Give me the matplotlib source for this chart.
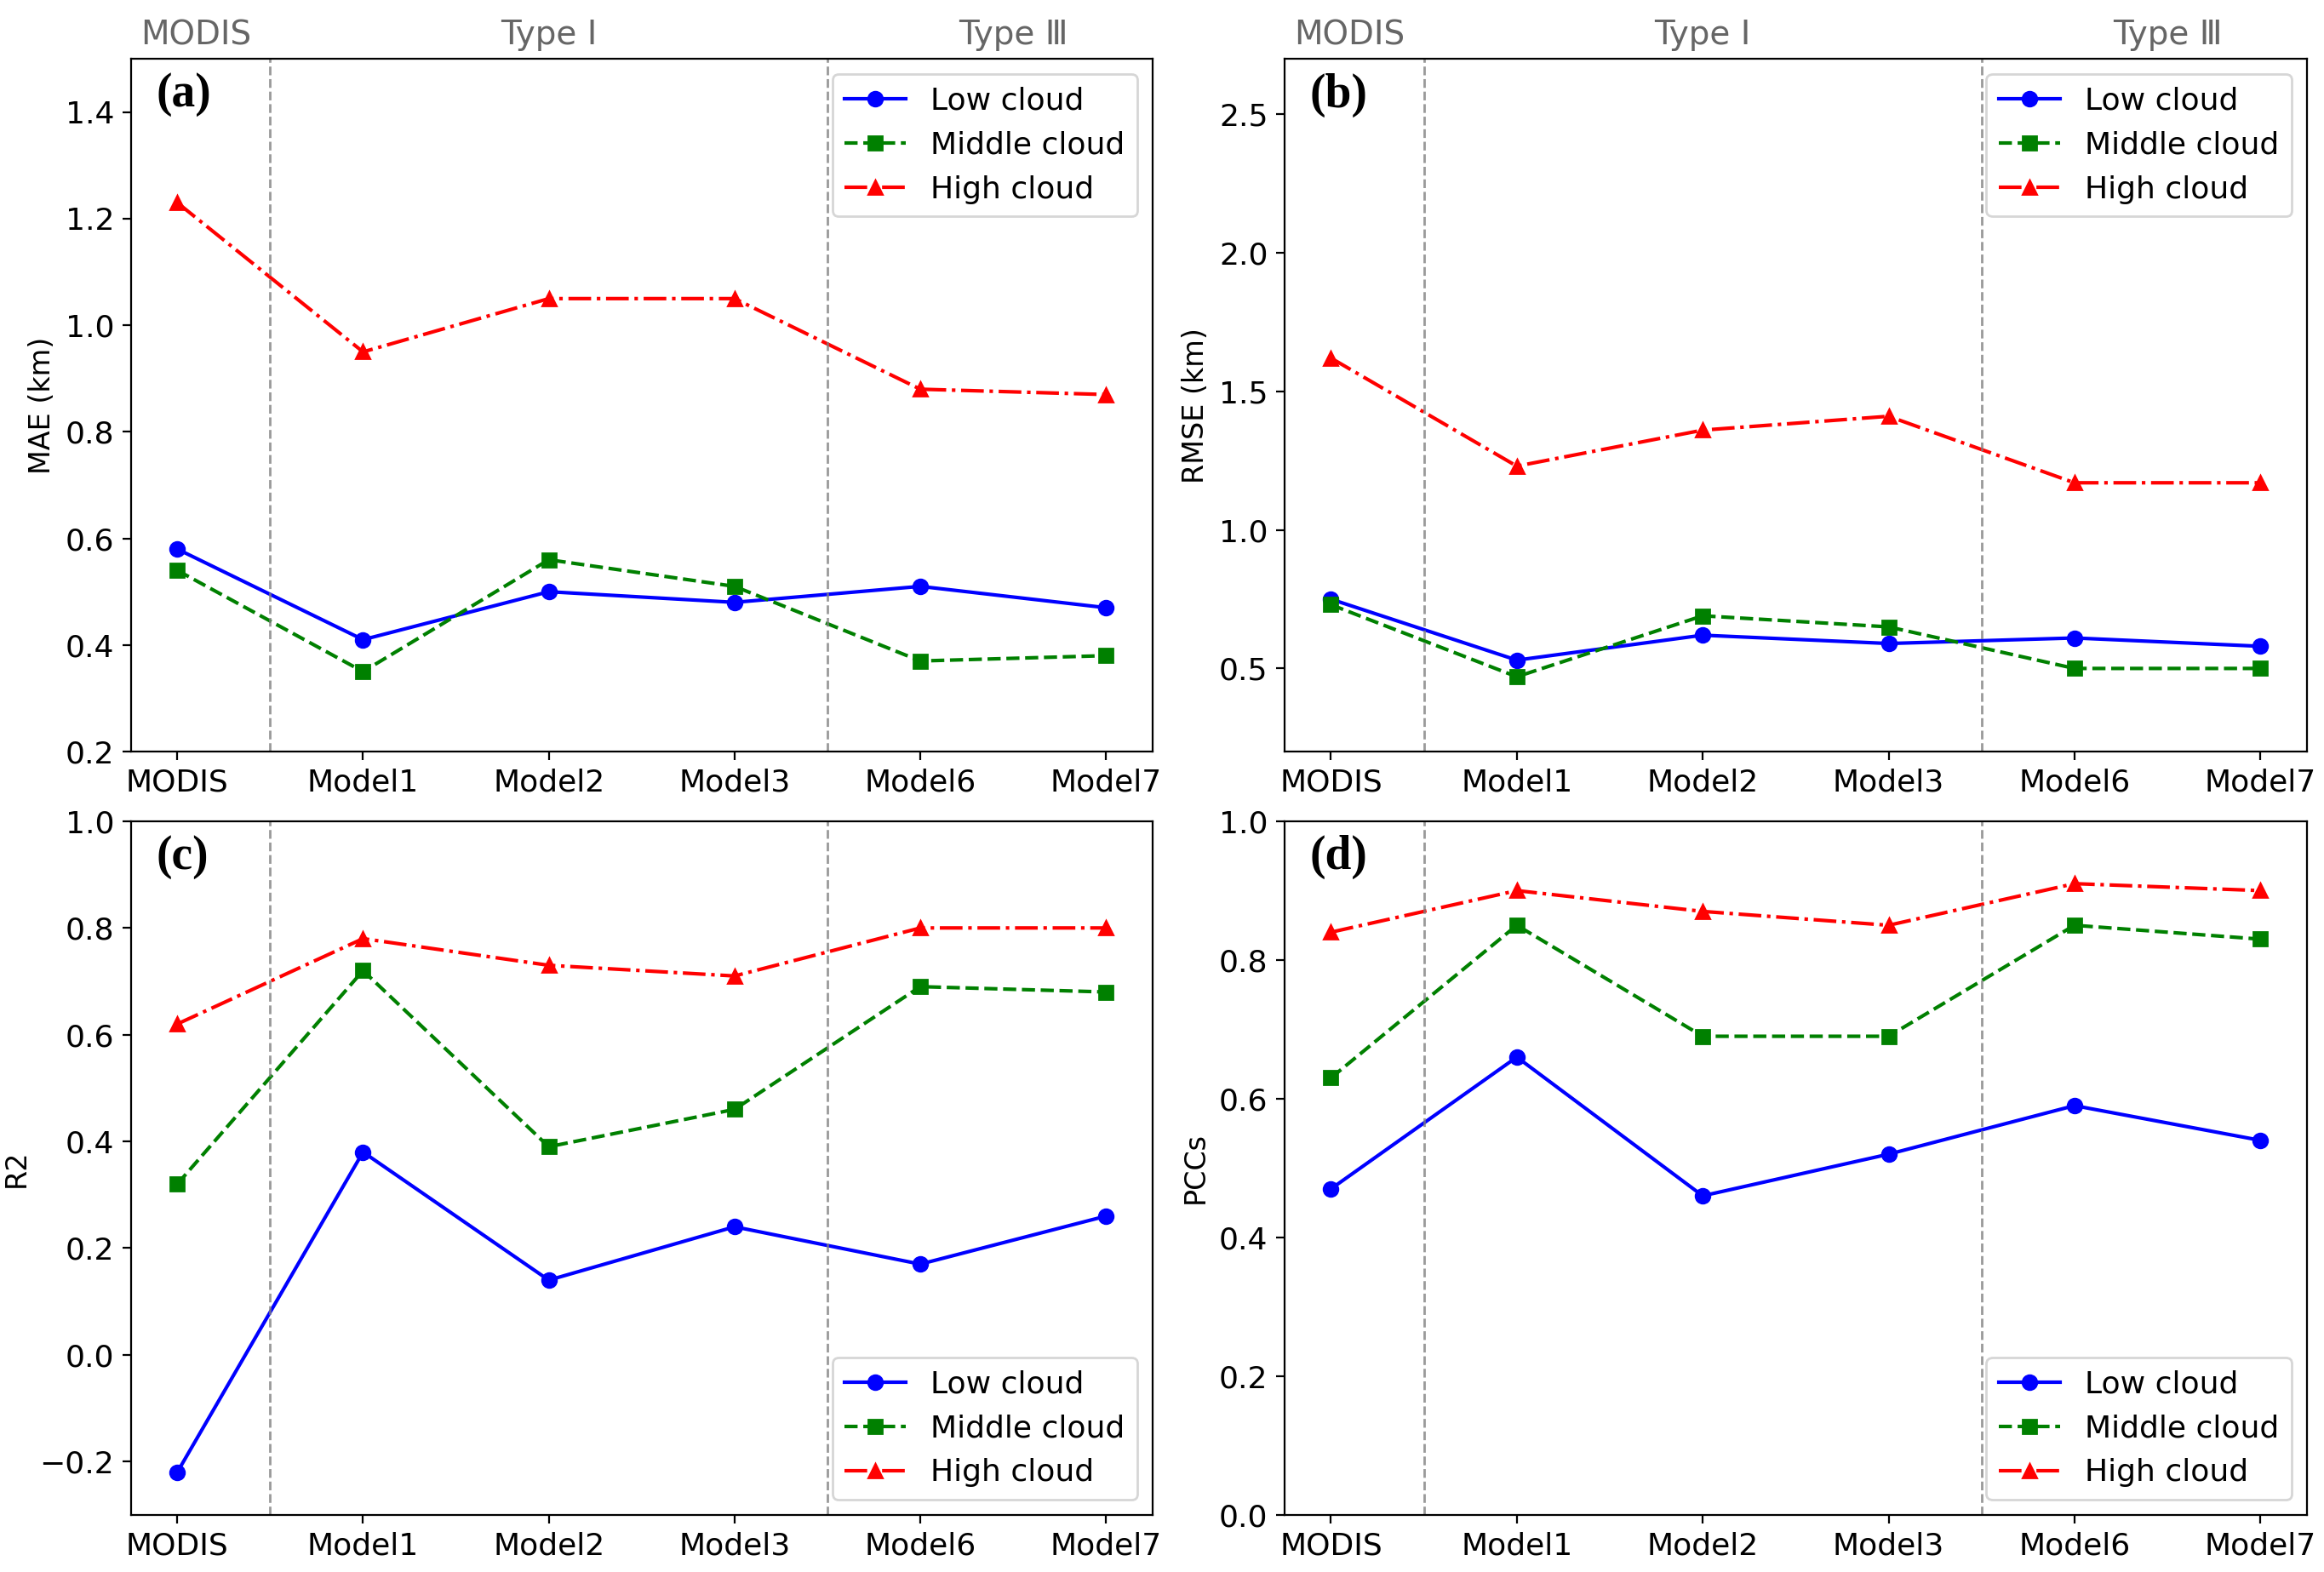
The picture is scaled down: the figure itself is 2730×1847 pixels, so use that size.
import numpy as np
import matplotlib
matplotlib.use("Agg")
import matplotlib.pyplot as plt
import matplotlib.transforms as mtransforms

# Modelos en el eje x
modelos = ["MODIS", "Model1", "Model2", "Model3", "Model6", "Model7"]

# MAE (km)
mae_low = [0.58, 0.41, 0.50, 0.48, 0.51, 0.47]
mae_mid = [0.54, 0.35, 0.56, 0.51, 0.37, 0.38]
mae_high = [1.23, 0.95, 1.05, 1.05, 0.88, 0.87]

# RMSE (km)
rmse_low = [0.75, 0.53, 0.62, 0.59, 0.61, 0.58]
rmse_mid = [0.73, 0.47, 0.69, 0.65, 0.50, 0.50]
rmse_high = [1.62, 1.23, 1.36, 1.41, 1.17, 1.17]

# R2
r2_low = [-0.22, 0.38, 0.14, 0.24, 0.17, 0.26]
r2_mid = [0.32, 0.72, 0.39, 0.46, 0.69, 0.68]
r2_high = [0.62, 0.78, 0.73, 0.71, 0.80, 0.80]

# PCCs
pcc_low = [0.47, 0.66, 0.46, 0.52, 0.59, 0.54]
pcc_mid = [0.63, 0.85, 0.69, 0.69, 0.85, 0.83]
pcc_high = [0.84, 0.90, 0.87, 0.85, 0.91, 0.90]

# Grupos de modelos (texto superior)
grupos = ["MODIS", "Type Ⅰ", "Type Ⅲ"]
grupos_x = [0.1, 2.0, 4.5]
separadores = [0.5, 3.5]

paneles = [
    ("(a)", "MAE (km)", (0.2, 1.5), mae_low, mae_mid, mae_high, "upper right", True),
    ("(b)", "RMSE (km)", (0.2, 2.7), rmse_low, rmse_mid, rmse_high, "upper right", True),
    ("(c)", "R2", (-0.3, 1.0), r2_low, r2_mid, r2_high, "lower right", False),
    ("(d)", "PCCs", (0.0, 1.0), pcc_low, pcc_mid, pcc_high, "lower right", False),
]

# Posiciones de los ejes [left, bottom, width, height]
posiciones = [
    [0.0563, 0.5219, 0.4396, 0.4407],
    [0.5527, 0.5219, 0.4399, 0.4407],
    [0.0563, 0.0363, 0.4396, 0.4413],
    [0.5527, 0.0363, 0.4399, 0.4413],
]

fig = plt.figure(figsize=(13.65, 9.235), dpi=200)
x = np.arange(len(modelos))

for pos, (letra, ylabel, ylim, low, mid, high, loc, arriba) in zip(posiciones, paneles):
    ax = fig.add_axes(pos)
    ax.plot(x, low, "b-o", label="Low cloud")
    ax.plot(x, mid, "g--s", label="Middle cloud")
    ax.plot(x, high, "r-.^", label="High cloud")
    for s in separadores:
        ax.axvline(s, color="gray", linestyle="--", linewidth=1, alpha=0.8)
    ax.set_xticks(x)
    ax.set_xticklabels(modelos)
    ax.set_xlim(-0.25, 5.25)
    ax.set_ylim(*ylim)
    ax.set_ylabel(ylabel, fontsize=12)
    ax.tick_params(labelsize=13)
    ax.legend(loc=loc, fontsize=13)
    ax.text(0.025, 0.98, letra, transform=ax.transAxes, ha="left", va="top",
            fontsize=20, fontweight="bold", family="Liberation Serif")
    if arriba:
        trans = mtransforms.blended_transform_factory(ax.transData, ax.transAxes)
        for g, gx in zip(grupos, grupos_x):
            ax.text(gx, 1.034, g, transform=trans, ha="center", va="center",
                    fontsize=14, color="#666666")

fig.savefig("out.png", dpi=200)
